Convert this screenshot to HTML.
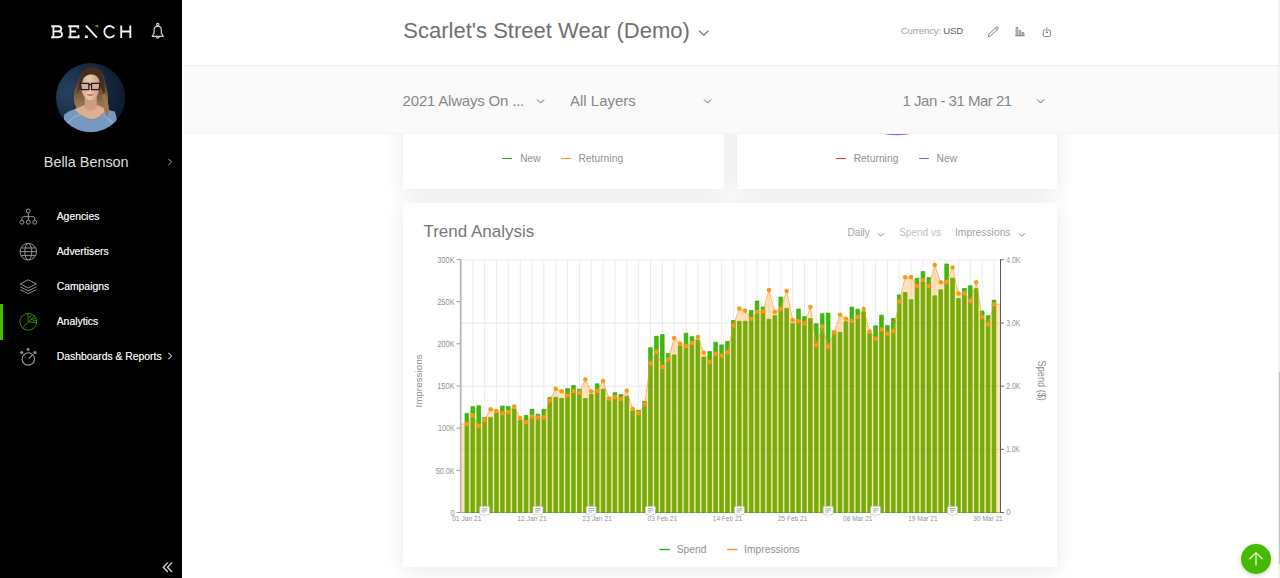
<!DOCTYPE html>
<html>
<head>
<meta charset="utf-8">
<title>Bench - Analytics</title>
<style>
*{box-sizing:border-box;margin:0;padding:0}
html,body{width:1280px;height:578px;overflow:hidden;background:#fff;font-family:"Liberation Sans",sans-serif;}
.abs{position:absolute;white-space:nowrap;line-height:1}
#sidebar{position:absolute;left:0;top:0;width:181.5px;height:578px;background:#000;z-index:5}
#header{position:absolute;left:181px;top:0;width:1099px;height:65px;background:#fff;z-index:3}
#hline{position:absolute;left:183.5px;top:65px;width:1097px;height:1px;background:#ededed;z-index:3}
#filter{position:absolute;left:183.5px;top:66px;width:1097px;height:67px;background:#fafafa;z-index:3}
#fline{position:absolute;left:183.5px;top:133px;width:1097px;height:1px;background:#f4f4f4;z-index:3}
.card{position:absolute;background:#fff;box-shadow:0 3px 20px rgba(0,0,0,0.095);z-index:1}
.nav{position:absolute;left:56.7px;color:#e8e8e8;font-size:10.38px;white-space:nowrap;line-height:12px;letter-spacing:0;text-shadow:0 0 0.25px #ccc}
.lg{position:absolute;font-size:10.2px;color:#909090;white-space:nowrap;line-height:12px;letter-spacing:0.06px}
.dash{position:absolute;height:1.4px;width:10px}
svg{position:absolute;overflow:visible}
</style>
</head>
<body>

<!-- ============ CONTENT CARDS ============ -->
<div class="card" id="trend" style="left:403.4px;top:202.7px;width:653.8px;height:364.5px"></div>
<div class="card" style="left:403.4px;top:100px;width:320.3px;height:89px"></div>
<div class="card" style="left:737.1px;top:100px;width:320.1px;height:89px"></div>

<!-- purple donut peek -->
<svg style="left:870px;top:80px;z-index:2" width="54" height="56" viewBox="0 0 54 56"><circle cx="26.8" cy="-4.9" r="58.7" fill="none" stroke="#a05fd6" stroke-width="3"/></svg>

<!-- legends in upper cards -->
<div style="position:absolute;left:0;top:0;z-index:2">
<div class="dash" style="left:502.3px;top:157.8px;background:#2fae1c"></div>
<div class="lg" style="left:520.2px;top:153.1px">New</div>
<div class="dash" style="left:561px;top:157.8px;background:#ff8f2e"></div>
<div class="lg" style="left:578.4px;top:153.1px">Returning</div>
<div class="dash" style="left:836.2px;top:157.8px;background:#f5302a"></div>
<div class="lg" style="left:853.7px;top:153.1px">Returning</div>
<div class="dash" style="left:919px;top:157.8px;background:#9a5fd8"></div>
<div class="lg" style="left:936.5px;top:153.1px">New</div>
</div>

<!-- trend header -->
<div style="position:absolute;left:0;top:0;z-index:2">
<div class="abs" style="left:423.4px;top:221.6px;font-size:17px;color:#787878;line-height:20px">Trend Analysis</div>
<div class="abs" style="left:847.6px;top:227.2px;font-size:10px;color:#a2a2a2;line-height:12px">Daily</div>
<svg style="left:877px;top:232px" width="8" height="6" viewBox="0 0 8 6"><path d="M0.8 1.2 L3.9 4.3 L7 1.2" fill="none" stroke="#8a8a8a" stroke-width="1"/></svg>
<div class="abs" style="left:899.2px;top:227.2px;font-size:10px;color:#c0c0c0;line-height:12px">Spend vs</div>
<div class="abs" style="left:955px;top:227.2px;font-size:10.3px;color:#a2a2a2;line-height:12px">Impressions</div>
<svg style="left:1018.3px;top:232px" width="8" height="6" viewBox="0 0 8 6"><path d="M0.8 1.2 L3.9 4.3 L7 1.2" fill="none" stroke="#8a8a8a" stroke-width="1"/></svg>
</div>

<svg style="left:0;top:0;z-index:2" width="1280" height="578" viewBox="0 0 1280 578" font-family="Liberation Sans, sans-serif">
<path d="M472.82 259.5 V512.5 M484.67 259.5 V512.5 M496.52 259.5 V512.5 M508.36 259.5 V512.5 M520.21 259.5 V512.5 M532.05 259.5 V512.5 M543.90 259.5 V512.5 M555.75 259.5 V512.5 M567.59 259.5 V512.5 M579.44 259.5 V512.5 M591.28 259.5 V512.5 M603.13 259.5 V512.5 M614.97 259.5 V512.5 M626.82 259.5 V512.5 M638.67 259.5 V512.5 M650.51 259.5 V512.5 M662.36 259.5 V512.5 M674.20 259.5 V512.5 M686.05 259.5 V512.5 M697.90 259.5 V512.5 M709.74 259.5 V512.5 M721.59 259.5 V512.5 M733.43 259.5 V512.5 M745.28 259.5 V512.5 M757.13 259.5 V512.5 M768.97 259.5 V512.5 M780.82 259.5 V512.5 M792.66 259.5 V512.5 M804.51 259.5 V512.5 M816.36 259.5 V512.5 M828.20 259.5 V512.5 M840.05 259.5 V512.5 M851.89 259.5 V512.5 M863.74 259.5 V512.5 M875.59 259.5 V512.5 M887.43 259.5 V512.5 M899.28 259.5 V512.5 M911.12 259.5 V512.5 M922.97 259.5 V512.5 M934.82 259.5 V512.5 M946.66 259.5 V512.5 M958.51 259.5 V512.5 M970.36 259.5 V512.5 M982.20 259.5 V512.5 M994.05 259.5 V512.5" stroke="#ececec" stroke-width="1" fill="none"/>
<path d="M461.0 449.35 H1000.0 M461.0 386.20 H1000.0 M461.0 323.05 H1000.0 M461.0 259.90 H1000.0" stroke="#ebebeb" stroke-width="1" fill="none"/>
<path d="M465.01 512.5 V413.40 h3.68 V512.5 Z M470.93 512.5 V406.40 h3.68 V512.5 Z M476.86 512.5 V405.80 h3.68 V512.5 Z M482.78 512.5 V417.40 h3.68 V512.5 Z M488.70 512.5 V417.40 h3.68 V512.5 Z M494.63 512.5 V413.10 h3.68 V512.5 Z M500.55 512.5 V406.00 h3.68 V512.5 Z M506.47 512.5 V406.40 h3.68 V512.5 Z M512.39 512.5 V408.80 h3.68 V512.5 Z M518.32 512.5 V420.50 h3.68 V512.5 Z M524.24 512.5 V415.40 h3.68 V512.5 Z M530.16 512.5 V409.30 h3.68 V512.5 Z M536.09 512.5 V414.20 h3.68 V512.5 Z M542.01 512.5 V409.30 h3.68 V512.5 Z M547.93 512.5 V397.60 h3.68 V512.5 Z M553.86 512.5 V397.35 h3.68 V512.5 Z M559.78 512.5 V398.50 h3.68 V512.5 Z M565.70 512.5 V388.50 h3.68 V512.5 Z M571.62 512.5 V385.60 h3.68 V512.5 Z M577.55 512.5 V389.15 h3.68 V512.5 Z M583.47 512.5 V398.50 h3.68 V512.5 Z M589.39 512.5 V394.50 h3.68 V512.5 Z M595.32 512.5 V383.80 h3.68 V512.5 Z M601.24 512.5 V389.15 h3.68 V512.5 Z M607.16 512.5 V400.50 h3.68 V512.5 Z M613.08 512.5 V392.70 h3.68 V512.5 Z M619.01 512.5 V394.60 h3.68 V512.5 Z M624.93 512.5 V396.20 h3.68 V512.5 Z M630.85 512.5 V411.00 h3.68 V512.5 Z M636.78 512.5 V410.20 h3.68 V512.5 Z M642.70 512.5 V401.30 h3.68 V512.5 Z M648.62 512.5 V347.70 h3.68 V512.5 Z M654.55 512.5 V336.30 h3.68 V512.5 Z M660.47 512.5 V334.60 h3.68 V512.5 Z M666.39 512.5 V353.50 h3.68 V512.5 Z M672.31 512.5 V354.90 h3.68 V512.5 Z M678.24 512.5 V345.90 h3.68 V512.5 Z M684.16 512.5 V333.20 h3.68 V512.5 Z M690.08 512.5 V336.70 h3.68 V512.5 Z M696.01 512.5 V339.90 h3.68 V512.5 Z M701.93 512.5 V357.00 h3.68 V512.5 Z M707.85 512.5 V351.60 h3.68 V512.5 Z M713.78 512.5 V342.20 h3.68 V512.5 Z M719.70 512.5 V344.90 h3.68 V512.5 Z M725.62 512.5 V341.40 h3.68 V512.5 Z M731.54 512.5 V320.50 h3.68 V512.5 Z M737.47 512.5 V321.30 h3.68 V512.5 Z M743.39 512.5 V321.30 h3.68 V512.5 Z M749.31 512.5 V310.50 h3.68 V512.5 Z M755.24 512.5 V301.00 h3.68 V512.5 Z M761.16 512.5 V307.00 h3.68 V512.5 Z M767.08 512.5 V319.30 h3.68 V512.5 Z M773.01 512.5 V315.60 h3.68 V512.5 Z M778.93 512.5 V297.10 h3.68 V512.5 Z M784.85 512.5 V308.40 h3.68 V512.5 Z M790.77 512.5 V323.40 h3.68 V512.5 Z M796.70 512.5 V309.00 h3.68 V512.5 Z M802.62 512.5 V316.60 h3.68 V512.5 Z M808.54 512.5 V318.60 h3.68 V512.5 Z M814.47 512.5 V323.80 h3.68 V512.5 Z M820.39 512.5 V313.80 h3.68 V512.5 Z M826.31 512.5 V313.10 h3.68 V512.5 Z M832.24 512.5 V330.90 h3.68 V512.5 Z M838.16 512.5 V332.30 h3.68 V512.5 Z M844.08 512.5 V321.65 h3.68 V512.5 Z M850.00 512.5 V307.00 h3.68 V512.5 Z M855.93 512.5 V309.15 h3.68 V512.5 Z M861.85 512.5 V311.70 h3.68 V512.5 Z M867.77 512.5 V333.20 h3.68 V512.5 Z M873.70 512.5 V325.80 h3.68 V512.5 Z M879.62 512.5 V315.20 h3.68 V512.5 Z M885.54 512.5 V325.40 h3.68 V512.5 Z M891.47 512.5 V318.50 h3.68 V512.5 Z M897.39 512.5 V294.90 h3.68 V512.5 Z M903.31 512.5 V292.60 h3.68 V512.5 Z M909.24 512.5 V299.65 h3.68 V512.5 Z M915.16 512.5 V278.20 h3.68 V512.5 Z M921.08 512.5 V271.50 h3.68 V512.5 Z M927.00 512.5 V277.50 h3.68 V512.5 Z M932.93 512.5 V295.80 h3.68 V512.5 Z M938.85 512.5 V289.80 h3.68 V512.5 Z M944.77 512.5 V264.00 h3.68 V512.5 Z M950.70 512.5 V278.20 h3.68 V512.5 Z M956.62 512.5 V298.60 h3.68 V512.5 Z M962.54 512.5 V288.50 h3.68 V512.5 Z M968.47 512.5 V285.70 h3.68 V512.5 Z M974.39 512.5 V288.50 h3.68 V512.5 Z M980.31 512.5 V311.00 h3.68 V512.5 Z M986.23 512.5 V315.70 h3.68 V512.5 Z M992.16 512.5 V300.20 h3.68 V512.5 Z" fill="#45b900" stroke="#27b00e" stroke-width="0.7"/>
<path d="M461.00 424.00 L466.85 424.00 L472.77 415.20 L478.70 425.80 L484.62 419.80 L490.54 409.30 L496.47 410.90 L502.39 413.20 L508.31 412.00 L514.23 406.40 L520.16 418.00 L526.08 422.20 L532.00 416.60 L537.93 417.50 L543.85 417.30 L549.77 400.50 L555.70 388.75 L561.62 391.25 L567.54 395.40 L573.46 391.10 L579.39 392.80 L585.31 379.40 L591.23 391.50 L597.16 390.90 L603.08 380.90 L609.00 398.50 L614.92 397.00 L620.85 399.10 L626.77 390.70 L632.69 408.90 L638.62 413.00 L644.54 404.40 L650.46 363.30 L656.39 351.40 L662.31 367.00 L668.23 359.50 L674.15 338.10 L680.08 343.60 L686.00 346.10 L691.92 343.00 L697.85 337.10 L703.77 352.70 L709.69 362.10 L715.62 353.70 L721.54 355.60 L727.46 352.50 L733.38 325.40 L739.31 308.50 L745.23 310.70 L751.15 319.10 L757.08 311.75 L763.00 311.50 L768.92 289.90 L774.85 312.10 L780.77 308.90 L786.69 291.00 L792.62 319.90 L798.54 321.30 L804.46 323.60 L810.38 307.10 L816.31 345.20 L822.23 326.50 L828.15 346.70 L834.08 332.40 L840.00 314.70 L845.92 318.75 L851.85 321.10 L857.77 317.00 L863.69 309.00 L869.61 331.40 L875.54 338.70 L881.46 329.50 L887.38 333.40 L893.31 330.90 L899.23 301.50 L905.15 277.30 L911.08 277.10 L917.00 285.90 L922.92 279.90 L928.84 285.90 L934.77 265.00 L940.69 282.30 L946.61 282.10 L952.54 267.60 L958.46 293.40 L964.38 293.20 L970.31 301.00 L976.23 282.30 L982.15 317.10 L988.07 324.20 L994.00 304.20 L1000.00 304.20 V512.5 H461.0 Z" fill="#ff9100" fill-opacity="0.27"/>
<path d="M461.00 424.00 L466.85 424.00 L472.77 415.20 L478.70 425.80 L484.62 419.80 L490.54 409.30 L496.47 410.90 L502.39 413.20 L508.31 412.00 L514.23 406.40 L520.16 418.00 L526.08 422.20 L532.00 416.60 L537.93 417.50 L543.85 417.30 L549.77 400.50 L555.70 388.75 L561.62 391.25 L567.54 395.40 L573.46 391.10 L579.39 392.80 L585.31 379.40 L591.23 391.50 L597.16 390.90 L603.08 380.90 L609.00 398.50 L614.92 397.00 L620.85 399.10 L626.77 390.70 L632.69 408.90 L638.62 413.00 L644.54 404.40 L650.46 363.30 L656.39 351.40 L662.31 367.00 L668.23 359.50 L674.15 338.10 L680.08 343.60 L686.00 346.10 L691.92 343.00 L697.85 337.10 L703.77 352.70 L709.69 362.10 L715.62 353.70 L721.54 355.60 L727.46 352.50 L733.38 325.40 L739.31 308.50 L745.23 310.70 L751.15 319.10 L757.08 311.75 L763.00 311.50 L768.92 289.90 L774.85 312.10 L780.77 308.90 L786.69 291.00 L792.62 319.90 L798.54 321.30 L804.46 323.60 L810.38 307.10 L816.31 345.20 L822.23 326.50 L828.15 346.70 L834.08 332.40 L840.00 314.70 L845.92 318.75 L851.85 321.10 L857.77 317.00 L863.69 309.00 L869.61 331.40 L875.54 338.70 L881.46 329.50 L887.38 333.40 L893.31 330.90 L899.23 301.50 L905.15 277.30 L911.08 277.10 L917.00 285.90 L922.92 279.90 L928.84 285.90 L934.77 265.00 L940.69 282.30 L946.61 282.10 L952.54 267.60 L958.46 293.40 L964.38 293.20 L970.31 301.00 L976.23 282.30 L982.15 317.10 L988.07 324.20 L994.00 304.20 L1000.00 304.20" fill="none" stroke="#ff9a2a" stroke-width="1" stroke-opacity="0.65"/>
<path d="M461.0 449.35 H1000.0 M461.0 386.20 H1000.0 M461.0 323.05 H1000.0" stroke="#000" stroke-opacity="0.015" stroke-width="1" fill="none"/>
<circle cx="466.85" cy="424.00" r="2.25" fill="#ff9716"/>
<circle cx="472.77" cy="415.20" r="2.25" fill="#ff9716"/>
<circle cx="478.70" cy="425.80" r="2.25" fill="#ff9716"/>
<circle cx="484.62" cy="419.80" r="2.25" fill="#ff9716"/>
<circle cx="490.54" cy="409.30" r="2.25" fill="#ff9716"/>
<circle cx="496.47" cy="410.90" r="2.25" fill="#ff9716"/>
<circle cx="502.39" cy="413.20" r="2.25" fill="#ff9716"/>
<circle cx="508.31" cy="412.00" r="2.25" fill="#ff9716"/>
<circle cx="514.23" cy="406.40" r="2.25" fill="#ff9716"/>
<circle cx="520.16" cy="418.00" r="2.25" fill="#ff9716"/>
<circle cx="526.08" cy="422.20" r="2.25" fill="#ff9716"/>
<circle cx="532.00" cy="416.60" r="2.25" fill="#ff9716"/>
<circle cx="537.93" cy="417.50" r="2.25" fill="#ff9716"/>
<circle cx="543.85" cy="417.30" r="2.25" fill="#ff9716"/>
<circle cx="549.77" cy="400.50" r="2.25" fill="#ff9716"/>
<circle cx="555.70" cy="388.75" r="2.25" fill="#ff9716"/>
<circle cx="561.62" cy="391.25" r="2.25" fill="#ff9716"/>
<circle cx="567.54" cy="395.40" r="2.25" fill="#ff9716"/>
<circle cx="573.46" cy="391.10" r="2.25" fill="#ff9716"/>
<circle cx="579.39" cy="392.80" r="2.25" fill="#ff9716"/>
<circle cx="585.31" cy="379.40" r="2.25" fill="#ff9716"/>
<circle cx="591.23" cy="391.50" r="2.25" fill="#ff9716"/>
<circle cx="597.16" cy="390.90" r="2.25" fill="#ff9716"/>
<circle cx="603.08" cy="380.90" r="2.25" fill="#ff9716"/>
<circle cx="609.00" cy="398.50" r="2.25" fill="#ff9716"/>
<circle cx="614.92" cy="397.00" r="2.25" fill="#ff9716"/>
<circle cx="620.85" cy="399.10" r="2.25" fill="#ff9716"/>
<circle cx="626.77" cy="390.70" r="2.25" fill="#ff9716"/>
<circle cx="632.69" cy="408.90" r="2.25" fill="#ff9716"/>
<circle cx="638.62" cy="413.00" r="2.25" fill="#ff9716"/>
<circle cx="644.54" cy="404.40" r="2.25" fill="#ff9716"/>
<circle cx="650.46" cy="363.30" r="2.25" fill="#ff9716"/>
<circle cx="656.39" cy="351.40" r="2.25" fill="#ff9716"/>
<circle cx="662.31" cy="367.00" r="2.25" fill="#ff9716"/>
<circle cx="668.23" cy="359.50" r="2.25" fill="#ff9716"/>
<circle cx="674.15" cy="338.10" r="2.25" fill="#ff9716"/>
<circle cx="680.08" cy="343.60" r="2.25" fill="#ff9716"/>
<circle cx="686.00" cy="346.10" r="2.25" fill="#ff9716"/>
<circle cx="691.92" cy="343.00" r="2.25" fill="#ff9716"/>
<circle cx="697.85" cy="337.10" r="2.25" fill="#ff9716"/>
<circle cx="703.77" cy="352.70" r="2.25" fill="#ff9716"/>
<circle cx="709.69" cy="362.10" r="2.25" fill="#ff9716"/>
<circle cx="715.62" cy="353.70" r="2.25" fill="#ff9716"/>
<circle cx="721.54" cy="355.60" r="2.25" fill="#ff9716"/>
<circle cx="727.46" cy="352.50" r="2.25" fill="#ff9716"/>
<circle cx="733.38" cy="325.40" r="2.25" fill="#ff9716"/>
<circle cx="739.31" cy="308.50" r="2.25" fill="#ff9716"/>
<circle cx="745.23" cy="310.70" r="2.25" fill="#ff9716"/>
<circle cx="751.15" cy="319.10" r="2.25" fill="#ff9716"/>
<circle cx="757.08" cy="311.75" r="2.25" fill="#ff9716"/>
<circle cx="763.00" cy="311.50" r="2.25" fill="#ff9716"/>
<circle cx="768.92" cy="289.90" r="2.25" fill="#ff9716"/>
<circle cx="774.85" cy="312.10" r="2.25" fill="#ff9716"/>
<circle cx="780.77" cy="308.90" r="2.25" fill="#ff9716"/>
<circle cx="786.69" cy="291.00" r="2.25" fill="#ff9716"/>
<circle cx="792.62" cy="319.90" r="2.25" fill="#ff9716"/>
<circle cx="798.54" cy="321.30" r="2.25" fill="#ff9716"/>
<circle cx="804.46" cy="323.60" r="2.25" fill="#ff9716"/>
<circle cx="810.38" cy="307.10" r="2.25" fill="#ff9716"/>
<circle cx="816.31" cy="345.20" r="2.25" fill="#ff9716"/>
<circle cx="822.23" cy="326.50" r="2.25" fill="#ff9716"/>
<circle cx="828.15" cy="346.70" r="2.25" fill="#ff9716"/>
<circle cx="834.08" cy="332.40" r="2.25" fill="#ff9716"/>
<circle cx="840.00" cy="314.70" r="2.25" fill="#ff9716"/>
<circle cx="845.92" cy="318.75" r="2.25" fill="#ff9716"/>
<circle cx="851.85" cy="321.10" r="2.25" fill="#ff9716"/>
<circle cx="857.77" cy="317.00" r="2.25" fill="#ff9716"/>
<circle cx="863.69" cy="309.00" r="2.25" fill="#ff9716"/>
<circle cx="869.61" cy="331.40" r="2.25" fill="#ff9716"/>
<circle cx="875.54" cy="338.70" r="2.25" fill="#ff9716"/>
<circle cx="881.46" cy="329.50" r="2.25" fill="#ff9716"/>
<circle cx="887.38" cy="333.40" r="2.25" fill="#ff9716"/>
<circle cx="893.31" cy="330.90" r="2.25" fill="#ff9716"/>
<circle cx="899.23" cy="301.50" r="2.25" fill="#ff9716"/>
<circle cx="905.15" cy="277.30" r="2.25" fill="#ff9716"/>
<circle cx="911.08" cy="277.10" r="2.25" fill="#ff9716"/>
<circle cx="917.00" cy="285.90" r="2.25" fill="#ff9716"/>
<circle cx="922.92" cy="279.90" r="2.25" fill="#ff9716"/>
<circle cx="928.84" cy="285.90" r="2.25" fill="#ff9716"/>
<circle cx="934.77" cy="265.00" r="2.25" fill="#ff9716"/>
<circle cx="940.69" cy="282.30" r="2.25" fill="#ff9716"/>
<circle cx="946.61" cy="282.10" r="2.25" fill="#ff9716"/>
<circle cx="952.54" cy="267.60" r="2.25" fill="#ff9716"/>
<circle cx="958.46" cy="293.40" r="2.25" fill="#ff9716"/>
<circle cx="964.38" cy="293.20" r="2.25" fill="#ff9716"/>
<circle cx="970.31" cy="301.00" r="2.25" fill="#ff9716"/>
<circle cx="976.23" cy="282.30" r="2.25" fill="#ff9716"/>
<circle cx="982.15" cy="317.10" r="2.25" fill="#ff9716"/>
<circle cx="988.07" cy="324.20" r="2.25" fill="#ff9716"/>
<circle cx="994.00" cy="304.20" r="2.25" fill="#ff9716"/>
<path d="M461.0 512.5 H1000.0" stroke="#4e8a10" stroke-width="1" stroke-opacity="0.55"/>
<path d="M460.7 259.2 V513.0" stroke="#b8b8b8" stroke-width="1.8"/>
<path d="M1000.5 259.2 V513.0" stroke="#5a5a5a" stroke-width="1"/>
<path d="M456.6 512.50 H460 M456.6 470.33 H460 M456.6 428.16 H460 M456.6 385.99 H460 M456.6 343.82 H460 M456.6 301.65 H460 M456.6 259.48 H460" stroke="#9a9a9a" stroke-width="1"/>
<path d="M1001 512.50 H1004 M1001 449.35 H1004 M1001 386.20 H1004 M1001 323.05 H1004 M1001 259.90 H1004" stroke="#6a6a6a" stroke-width="1"/>
<g font-size="8.2" fill="#939393"><text x="450.40" y="515.70" textLength="4.3" lengthAdjust="spacingAndGlyphs">0</text><text x="435.70" y="473.53" textLength="19.0" lengthAdjust="spacingAndGlyphs">50.0K</text><text x="437.90" y="431.36" textLength="16.8" lengthAdjust="spacingAndGlyphs">100K</text><text x="437.20" y="389.19" textLength="17.5" lengthAdjust="spacingAndGlyphs">150K</text><text x="437.20" y="347.02" textLength="17.5" lengthAdjust="spacingAndGlyphs">200K</text><text x="437.20" y="304.85" textLength="17.5" lengthAdjust="spacingAndGlyphs">250K</text><text x="437.20" y="262.68" textLength="17.5" lengthAdjust="spacingAndGlyphs">300K</text><text x="1006.3" y="515.30" textLength="4.3" lengthAdjust="spacingAndGlyphs">0</text><text x="1006.3" y="452.15" textLength="13.3" lengthAdjust="spacingAndGlyphs">1.0K</text><text x="1006.3" y="389.00" textLength="14.1" lengthAdjust="spacingAndGlyphs">2.0K</text><text x="1006.3" y="325.85" textLength="14.1" lengthAdjust="spacingAndGlyphs">3.0K</text><text x="1006.3" y="262.70" textLength="14.1" lengthAdjust="spacingAndGlyphs">4.0K</text></g>
<g font-size="8" fill="#939393"><text x="452.15" y="520.9" textLength="29.4" lengthAdjust="spacingAndGlyphs">01 Jan 21</text><text x="517.30" y="520.9" textLength="29.4" lengthAdjust="spacingAndGlyphs">12 Jan 21</text><text x="582.46" y="520.9" textLength="29.4" lengthAdjust="spacingAndGlyphs">23 Jan 21</text><text x="647.61" y="520.9" textLength="29.4" lengthAdjust="spacingAndGlyphs">03 Feb 21</text><text x="712.76" y="520.9" textLength="29.4" lengthAdjust="spacingAndGlyphs">14 Feb 21</text><text x="777.91" y="520.9" textLength="29.4" lengthAdjust="spacingAndGlyphs">25 Feb 21</text><text x="843.07" y="520.9" textLength="29.4" lengthAdjust="spacingAndGlyphs">08 Mar 21</text><text x="908.22" y="520.9" textLength="29.4" lengthAdjust="spacingAndGlyphs">19 Mar 21</text><text x="973.37" y="520.9" textLength="29.4" lengthAdjust="spacingAndGlyphs">30 Mar 21</text></g>
<g transform="translate(479.62 506.2)"><path d="M1 0 H9 Q10 0 10 1 V7.2 Q10 8.2 9 8.2 H6.8 L5 10.2 L3.2 8.2 H1 Q0 8.2 0 7.2 V1 Q0 0 1 0 Z" fill="#fff" stroke="#b9b9b9" stroke-width="0.7"/><path d="M2.2 2.4 H7.8 M2.2 4.1 H7.8 M2.2 5.8 H5.9" stroke="#9c9c9c" stroke-width="0.8"/></g>
<g transform="translate(532.93 506.2)"><path d="M1 0 H9 Q10 0 10 1 V7.2 Q10 8.2 9 8.2 H6.8 L5 10.2 L3.2 8.2 H1 Q0 8.2 0 7.2 V1 Q0 0 1 0 Z" fill="#fff" stroke="#b9b9b9" stroke-width="0.7"/><path d="M2.2 2.4 H7.8 M2.2 4.1 H7.8 M2.2 5.8 H5.9" stroke="#9c9c9c" stroke-width="0.8"/></g>
<g transform="translate(586.23 506.2)"><path d="M1 0 H9 Q10 0 10 1 V7.2 Q10 8.2 9 8.2 H6.8 L5 10.2 L3.2 8.2 H1 Q0 8.2 0 7.2 V1 Q0 0 1 0 Z" fill="#fff" stroke="#b9b9b9" stroke-width="0.7"/><path d="M2.2 2.4 H7.8 M2.2 4.1 H7.8 M2.2 5.8 H5.9" stroke="#9c9c9c" stroke-width="0.8"/></g>
<g transform="translate(645.46 506.2)"><path d="M1 0 H9 Q10 0 10 1 V7.2 Q10 8.2 9 8.2 H6.8 L5 10.2 L3.2 8.2 H1 Q0 8.2 0 7.2 V1 Q0 0 1 0 Z" fill="#fff" stroke="#b9b9b9" stroke-width="0.7"/><path d="M2.2 2.4 H7.8 M2.2 4.1 H7.8 M2.2 5.8 H5.9" stroke="#9c9c9c" stroke-width="0.8"/></g>
<g transform="translate(734.31 506.2)"><path d="M1 0 H9 Q10 0 10 1 V7.2 Q10 8.2 9 8.2 H6.8 L5 10.2 L3.2 8.2 H1 Q0 8.2 0 7.2 V1 Q0 0 1 0 Z" fill="#fff" stroke="#b9b9b9" stroke-width="0.7"/><path d="M2.2 2.4 H7.8 M2.2 4.1 H7.8 M2.2 5.8 H5.9" stroke="#9c9c9c" stroke-width="0.8"/></g>
<g transform="translate(823.15 506.2)"><path d="M1 0 H9 Q10 0 10 1 V7.2 Q10 8.2 9 8.2 H6.8 L5 10.2 L3.2 8.2 H1 Q0 8.2 0 7.2 V1 Q0 0 1 0 Z" fill="#fff" stroke="#b9b9b9" stroke-width="0.7"/><path d="M2.2 2.4 H7.8 M2.2 4.1 H7.8 M2.2 5.8 H5.9" stroke="#9c9c9c" stroke-width="0.8"/></g>
<g transform="translate(870.54 506.2)"><path d="M1 0 H9 Q10 0 10 1 V7.2 Q10 8.2 9 8.2 H6.8 L5 10.2 L3.2 8.2 H1 Q0 8.2 0 7.2 V1 Q0 0 1 0 Z" fill="#fff" stroke="#b9b9b9" stroke-width="0.7"/><path d="M2.2 2.4 H7.8 M2.2 4.1 H7.8 M2.2 5.8 H5.9" stroke="#9c9c9c" stroke-width="0.8"/></g>
<g transform="translate(947.54 506.2)"><path d="M1 0 H9 Q10 0 10 1 V7.2 Q10 8.2 9 8.2 H6.8 L5 10.2 L3.2 8.2 H1 Q0 8.2 0 7.2 V1 Q0 0 1 0 Z" fill="#fff" stroke="#b9b9b9" stroke-width="0.7"/><path d="M2.2 2.4 H7.8 M2.2 4.1 H7.8 M2.2 5.8 H5.9" stroke="#9c9c9c" stroke-width="0.8"/></g>
<text transform="translate(421.9 381) rotate(-90)" text-anchor="middle" font-size="9.9" fill="#8a8a8a">Impressions</text>
<text transform="translate(1037.6 360.6) rotate(90)" font-size="10" textLength="40.3" lengthAdjust="spacingAndGlyphs" fill="#8a8a8a">Spend ($)</text>
<path d="M659.4 549.5 H669.8" stroke="#2fae1c" stroke-width="1.4"/>
<path d="M727.2 549.5 H737.3" stroke="#ff8f2e" stroke-width="1.4"/>
</svg>
<div style="position:absolute;left:0;top:0;z-index:2">
<div class="lg" style="left:676.7px;top:543.6px">Spend</div>
<div class="lg" style="left:744px;top:543.6px;letter-spacing:0.08px">Impressions</div>
</div>

<!-- ============ HEADER ============ -->
<div id="header"></div><div id="hline"></div>
<div id="filter"></div><div id="fline"></div>
<div style="position:absolute;left:0;top:0;z-index:4">
<div class="abs" style="left:403.2px;top:18.1px;font-size:22px;color:#707070;line-height:26px;letter-spacing:0.02px">Scarlet's Street Wear (Demo)</div>
<svg style="left:698px;top:29px" width="12" height="8" viewBox="0 0 12 8"><path d="M1 1.6 L5.8 6.2 L10.6 1.6" fill="none" stroke="#6a6a6a" stroke-width="1.1"/></svg>

<div class="abs" style="left:900.8px;top:24.7px;font-size:9.6px;color:#a3a3a3;line-height:12px;letter-spacing:-0.15px">Currency:</div>
<div class="abs" style="left:943.2px;top:24.7px;font-size:9.6px;color:#5d5d5d;line-height:12px;letter-spacing:-0.1px">USD</div>

<!-- pencil -->
<svg style="left:987px;top:25.6px" width="12" height="12" viewBox="0 0 12 12"><path d="M1.1 10.6 L1.8 8.3 L9.3 1.2 Q10.3 0.4 11.1 1.3 Q11.8 2.2 10.9 3 L3.4 10 Z M8.4 2.1 L10 3.8" fill="none" stroke="#6a6a6a" stroke-width="0.85" stroke-linejoin="round"/></svg>
<!-- bars icon -->
<svg style="left:1014px;top:26px" width="12" height="11" viewBox="0 0 12 11"><path d="M2.1 9.8 V1.5 H3.8 V9.8 M5.2 9.8 V4.6 H6.8 V9.8 M8.1 9.8 V6.6 H9.8 V9.8" fill="#e6e6e6" stroke="#7d7d7d" stroke-width="0.85"/><path d="M1.2 9.8 H10.8" stroke="#777" stroke-width="0.9"/></svg>
<!-- download icon -->
<svg style="left:1042px;top:25.6px" width="11" height="12" viewBox="0 0 11 12"><path d="M3.6 3.9 H2.6 Q1.3 3.9 1.3 5.2 V9.2 Q1.3 10.5 2.6 10.5 H7.2 Q8.5 10.5 8.5 9.2 V5.2 Q8.5 3.9 7.2 3.9 H6.2 M4.9 1.4 V7 M3.7 5.9 L4.9 7.1 L6.1 5.9" fill="none" stroke="#747474" stroke-width="0.9"/></svg>

<!-- filter row -->
<div class="abs" style="left:402.6px;top:91.5px;font-size:15px;color:#878787;line-height:18px;letter-spacing:-0.2px">2021 Always On ...</div>
<svg style="left:536px;top:98px" width="10" height="7" viewBox="0 0 10 7"><path d="M1 1.4 L4.6 5 L8.2 1.4" fill="none" stroke="#6f6f6f" stroke-width="1"/></svg>
<div class="abs" style="left:570px;top:91.5px;font-size:15px;color:#878787;line-height:18px;letter-spacing:0px">All Layers</div>
<svg style="left:702.6px;top:98px" width="10" height="7" viewBox="0 0 10 7"><path d="M1 1.4 L4.6 5 L8.2 1.4" fill="none" stroke="#6f6f6f" stroke-width="1"/></svg>
<div class="abs" style="left:902.6px;top:91.5px;font-size:15px;color:#878787;line-height:18px;letter-spacing:-0.5px">1 Jan - 31 Mar 21</div>
<svg style="left:1036.4px;top:98px" width="10" height="7" viewBox="0 0 10 7"><path d="M1 1.4 L4.6 5 L8.2 1.4" fill="none" stroke="#6f6f6f" stroke-width="1"/></svg>
</div>

<!-- ============ SIDEBAR ============ -->
<div id="sidebar">
<svg style="left:0;top:0" width="181" height="60" viewBox="0 0 181 60">
<g fill="none" stroke="#f2f2f2" stroke-width="1.85">
<path d="M51.2 26.2 H58.1 Q61.3 26.2 61.3 28.8 Q61.3 31.4 58.1 31.4 H53.4 M58.1 31.4 Q62 31.4 62 34.3 Q62 37.2 58.3 37.2 H51.2 M53.4 26.2 V37.2"/>
<path d="M68.3 26.2 H78.2 V28.4 M70.4 26.2 V37.2 M68.3 37.2 H78.6 V34.9 M70.4 31.5 H76"/>
<path d="M85.9 25.7 L96.9 37.7" stroke-width="1.95"/>
<path d="M114.2 28.6 A5.4 5.7 0 1 0 114.2 34.9"/>
<path d="M121.2 25.5 V37.9 M130.3 25.5 V37.9 M121.2 31.5 H130.3"/>
</g>
<rect x="84.9" y="35.5" width="2.9" height="2.5" fill="#efefef"/>
<path d="M94.8 25.1 H98.1 V27.9 Z" fill="#57c400"/>
<g fill="none" stroke="#cfcfcf" stroke-width="1.2">
<path d="M152.2 36.3 L154.1 33.2 V30.3 Q154.1 26.2 157.7 26.2 Q161.3 26.2 161.3 30.3 V33.2 L163.3 36.3 Z" stroke-linejoin="round"/>
<circle cx="157.7" cy="24.5" r="1.2"/>
<path d="M156.1 36.6 Q157.7 39.6 159.3 36.6"/>
</g>
</svg>

<svg style="left:56.3px;top:62.8px" width="69.2" height="69.2" viewBox="0 0 69 69">
<defs>
<clipPath id="avc"><circle cx="34.5" cy="34.5" r="34.5"/></clipPath>
<radialGradient id="avbg" cx="0.18" cy="0.42" r="0.85"><stop offset="0" stop-color="#27425f"/><stop offset="0.5" stop-color="#172b45"/><stop offset="1" stop-color="#0d1a2d"/></radialGradient>
<linearGradient id="avhair" x1="0" y1="0" x2="0" y2="1"><stop offset="0" stop-color="#33231a"/><stop offset="0.35" stop-color="#5d412c"/><stop offset="0.7" stop-color="#94704c"/><stop offset="1" stop-color="#b08c62"/></linearGradient>
<linearGradient id="avskin" x1="0" y1="0" x2="1" y2="0"><stop offset="0" stop-color="#d3a487"/><stop offset="0.45" stop-color="#ecc7ad"/><stop offset="1" stop-color="#c99a7e"/></linearGradient>
<filter id="avblur" x="-10%" y="-10%" width="120%" height="120%"><feGaussianBlur stdDeviation="0.65"/></filter>
</defs>
<g clip-path="url(#avc)">
<rect width="69" height="69" fill="url(#avbg)"/>
<g filter="url(#avblur)">
<!-- hair back -->
<path d="M35.8 2.9 Q27 3 24.5 11 Q22 18 19.5 25 Q16.8 32 18.3 40 L20.5 45.5 L30 46 L42 47 L50.5 55 Q54 48 51.8 40 Q52.6 30 49.6 22 Q48.6 12 45 7.5 Q41.5 3 35.8 2.9 Z" fill="url(#avhair)"/>
<!-- shirt -->
<path d="M7.5 69 L8 51.5 Q12 47.6 18 46.4 Q26 55 35.8 56.6 Q45 55 49.8 46.4 L58.6 48.4 Q61.5 55 60.8 69 Z" fill="#7799c1"/>
<path d="M11 62 Q16 53 24 51.5 M47 52 Q54 55 57.5 63" stroke="#9dbbdc" stroke-width="1.8" fill="none" opacity="0.5"/>
<!-- chest -->
<path d="M18 46.4 Q25 43.4 29 42 L41 42 Q46 44 49.8 46.4 Q45 55 35.8 56.6 Q26 55 18 46.4 Z" fill="#dcaf93"/>
<!-- neck -->
<path d="M28.6 33 H40.6 V45 Q34.6 50 28.6 45 Z" fill="#cf9e81"/>
<!-- face -->
<path d="M24.6 20 Q24.4 11.5 34 11 Q43.4 11.3 43.6 20 Q43.8 30 39.5 34.8 Q34.4 39.6 29.3 34.8 Q24.6 30 24.6 20 Z" fill="url(#avskin)"/>
<!-- hair front -->
<path d="M35 4 Q26 4.8 24 16 Q22.6 24 20.5 32 Q25.2 24 27.4 15.2 Q31 11 36.5 11.2 Q41.6 11.8 43.4 17.5 Q44.8 25 48.5 33 Q49 22 47 14.5 Q44 4.2 35 4 Z" fill="#432e20"/>
<!-- hair lock over right shoulder -->
<path d="M46 33 Q49 40 48 47 Q50 52 51 55 Q54 48 51.8 40 Q51 35 48.5 30 Z" fill="#9b774f"/>
<!-- glasses -->
<path d="M24.3 20.4 H32.8 V26.6 H25.3 Z M35.4 20.4 H43.9 L43 26.6 H35.4 Z" fill="#d4ad95" stroke="#1c1a1c" stroke-width="1.25"/>
<path d="M32.8 21.6 H35.4" stroke="#19181a" stroke-width="1.2"/>
<!-- lips -->
<path d="M31.2 31.6 Q34 33.1 36.8 31.6 Q34 32.2 31.2 31.6 Z" fill="#c45c76" stroke="#c45c76" stroke-width="0.8"/>
</g>
</g>
</svg>

<div class="abs" style="left:43.8px;top:153.8px;font-size:14.4px;color:#dedede;line-height:17px">Bella Benson</div>
<svg style="left:167px;top:158px" width="6" height="8" viewBox="0 0 6 8"><path d="M1.4 0.8 L4.6 4 L1.4 7.2" fill="none" stroke="#b4b4b4" stroke-width="1"/></svg>

<div style="position:absolute;left:0;top:304px;width:2.6px;height:35.5px;background:#4cb900"></div>

<div class="nav" style="top:211px">Agencies</div>
<div class="nav" style="top:246px">Advertisers</div>
<div class="nav" style="top:281px">Campaigns</div>
<div class="nav" style="top:316px">Analytics</div>
<div class="nav" style="top:351px">Dashboards &amp; Reports</div>
<svg style="left:167.2px;top:352.2px" width="6" height="8" viewBox="0 0 6 8"><path d="M1.4 0.8 L4.6 4 L1.4 7.2" fill="none" stroke="#cdcdcd" stroke-width="1.05"/></svg>
<svg style="left:0;top:0" width="60" height="578" viewBox="0 0 60 578">
<g fill="none" stroke="#9c9c9c" stroke-width="0.95">
<!-- agencies -->
<circle cx="28.3" cy="211" r="2"/><circle cx="21.9" cy="222.2" r="2"/><circle cx="28.3" cy="222.2" r="2"/><circle cx="34.7" cy="222.2" r="2"/>
<path d="M28.3 213 V220.2 M21.9 220.2 V218.3 Q21.9 216.7 23.5 216.7 H33.1 Q34.7 216.7 34.7 218.3 V220.2"/>
<!-- globe -->
<circle cx="28.3" cy="251.7" r="8.3"/><ellipse cx="28.3" cy="251.7" rx="3.5" ry="8.3"/>
<path d="M20 251.7 H36.6 M21.2 248 H35.4 M21.2 255.4 H35.4"/>
<!-- layers -->
<path d="M28.3 279.8 L36.4 283.9 L28.3 288 L20.2 283.9 Z M20.2 286.8 L28.3 290.8 L36.4 286.8 M20.2 289.6 L28.3 293.6 L36.4 289.6" stroke-linejoin="round"/>
<!-- stopwatch -->
<circle cx="28.3" cy="358.9" r="6.2" stroke-width="1.1"/>
<path d="M28.8 358.5 L32.2 355.2" stroke-width="1.1"/>
</g>
<g fill="#8f8f8f"><circle cx="28.1" cy="349.5" r="1.4"/><circle cx="21.8" cy="352.5" r="1.6"/><circle cx="35" cy="352.5" r="1.6"/></g>
<!-- analytics -->
<g fill="none" stroke="#348c00" stroke-width="1">
<circle cx="28.3" cy="321.8" r="8.4"/>
<path d="M22.4 327.8 L34.4 316 M27.8 313.6 L28.3 321.8 L36.6 322.6 M29.3 318 L31.4 314.6 M31.2 319.6 L35.6 318.4 M33 321 L36.2 320.2"/>
</g>
</svg>

<!-- collapse -->
<svg style="left:162px;top:562px" width="11" height="11" viewBox="0 0 11 11"><path d="M5.8 0.6 L1.3 5.3 L5.8 10 M10 0.6 L5.5 5.3 L10 10" fill="none" stroke="#d6d6d6" stroke-width="1.35"/></svg>
</div>

<!-- ============ SCROLLBAR + FAB ============ -->
<div style="position:absolute;left:1277.8px;top:0;width:2.2px;height:578px;background:#f2f2f2;z-index:6"></div>
<div style="position:absolute;left:1278.9px;top:372px;width:1.1px;height:191.8px;background:#c2c2c2;z-index:7"></div>
<div style="position:absolute;left:1241px;top:544px;width:30px;height:30px;border-radius:50%;background:#46b902;box-shadow:0 1px 5px rgba(0,0,0,0.2);z-index:8"></div>
<svg style="left:1241px;top:544px;z-index:9" width="30" height="30" viewBox="0 0 30 30"><path d="M15 8.6 V21.6 M8.4 15.2 L15 8.6 L21.6 15.2" fill="none" stroke="#e6f5d8" stroke-width="1.3"/></svg>

</body>
</html>
